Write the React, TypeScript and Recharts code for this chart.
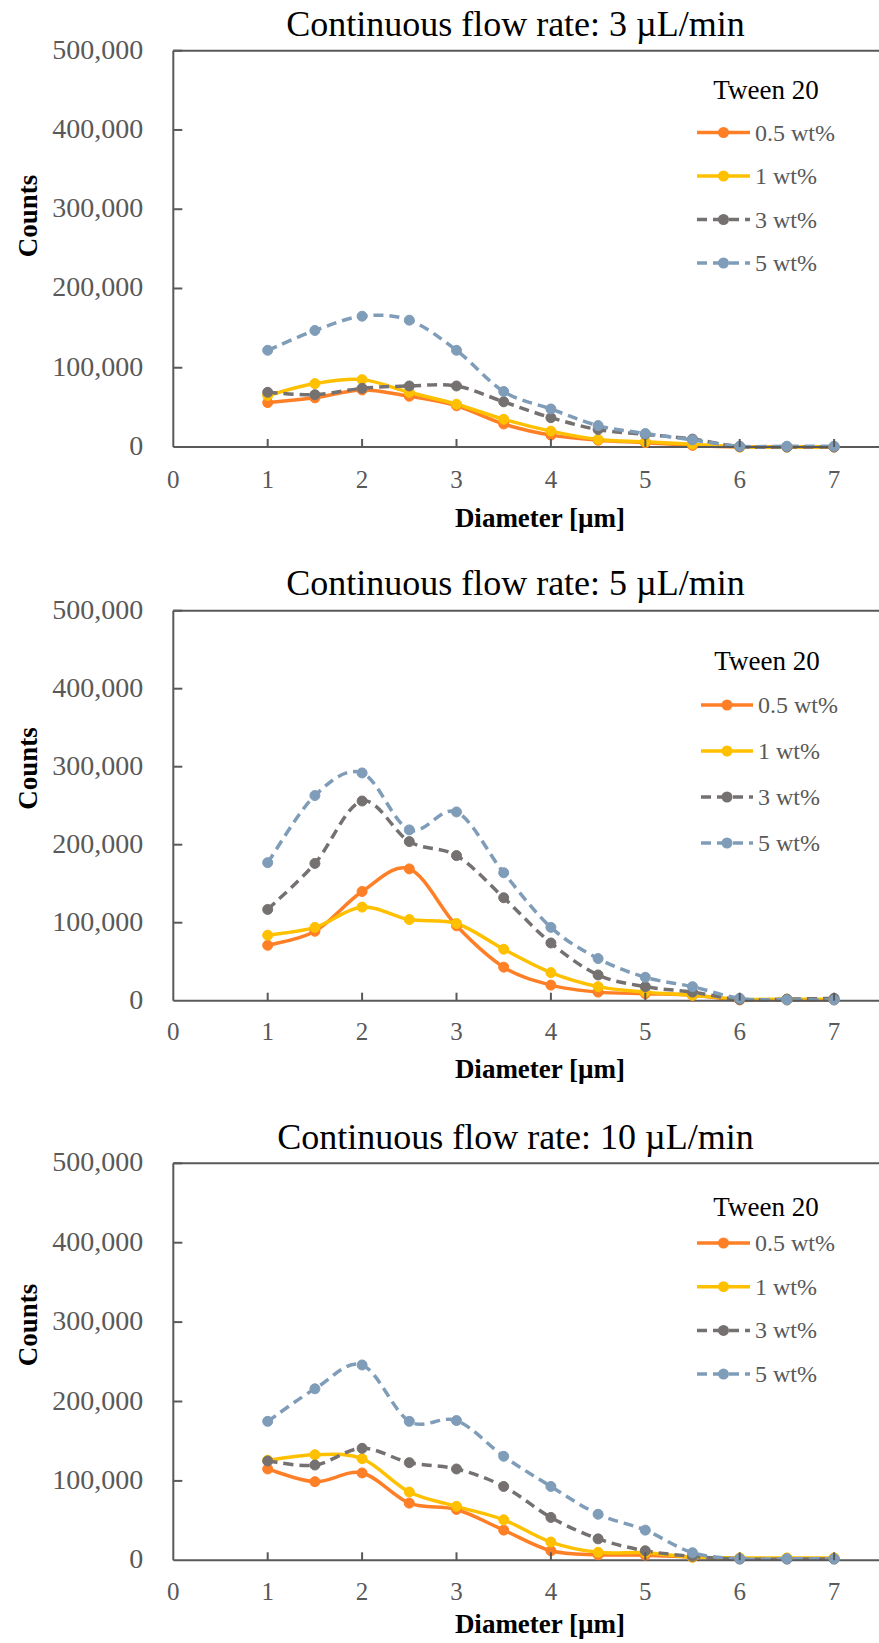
import React from 'react';
import { LineChart, Line, XAxis, YAxis, ReferenceLine, Legend } from 'recharts';

const FONT = '"Liberation Serif", "Times New Roman", serif';
const AXIS = '#595959';

const diameters = [1, 1.5, 2, 2.5, 3, 3.5, 4, 4.5, 5, 5.5, 6, 6.5, 7];
const seriesNames = ['0.5 wt%', '1 wt%', '3 wt%', '5 wt%'];
const seriesColors = ['#FF7F27', '#FFC000', '#767171', '#7F9DB9'];
const seriesDashes = [undefined, undefined, '10 6', '10 6'];
const xTicks = [0, 1, 2, 3, 4, 5, 6, 7];
const yTicks = [0, 100000, 200000, 300000, 400000, 500000];
const titles = [
  'Continuous flow rate: 3 µL/min',
  'Continuous flow rate: 5 µL/min',
  'Continuous flow rate: 10 µL/min',
];
const legendTitle = 'Tween 20';
const xLabel = 'Diameter [µm]';
const yLabel = 'Counts';

// 3 µL/min
const flow3_05 = [56000, 62000, 72000, 64000, 52000, 29000, 15000, 8500, 5500, 2000, 0, 0, 0];
const flow3_1 = [65000, 80000, 85000, 69000, 54000, 35000, 20000, 9500, 6500, 3500, 0, 0, 0];
const flow3_3 = [69000, 66000, 74000, 77000, 77000, 57000, 37000, 22000, 16000, 10000, 500, 0, 0];
const flow3_5 = [122000, 147000, 165000, 160000, 122000, 70000, 48000, 27000, 17000, 9000, 1000, 1000, 1000];

// 5 µL/min
const flow5_05 = [71000, 89000, 140000, 169000, 96000, 43000, 20000, 11000, 9000, 7000, 1000, 1000, 1000];
const flow5_1 = [84000, 94000, 120000, 104000, 99000, 66000, 36000, 18000, 11000, 7000, 2000, 2000, 2000];
const flow5_3 = [117000, 176000, 256000, 204000, 186000, 132000, 74000, 33000, 18000, 11000, 1500, 2000, 3000];
const flow5_5 = [177000, 263000, 292000, 219000, 242000, 164000, 94000, 54000, 30000, 18000, 3000, 1000, 1000];

// 10 µL/min
const flow10_05 = [115000, 99000, 110000, 72000, 64000, 38000, 12000, 7000, 6500, 4000, 2000, 2000, 2000];
const flow10_1 = [126000, 133000, 128000, 86000, 68000, 51000, 23000, 10000, 9500, 4000, 3000, 3000, 3000];
const flow10_3 = [125000, 120000, 141000, 123000, 115000, 93000, 54000, 27000, 12000, 5000, 1500, 1500, 1500];
const flow10_5 = [175000, 216000, 246000, 175000, 176000, 131000, 93000, 58000, 38000, 9500, 2000, 2000, 2000];

const panelSeries = [
  [flow3_05, flow3_1, flow3_3, flow3_5],
  [flow5_05, flow5_1, flow5_3, flow5_5],
  [flow10_05, flow10_1, flow10_3, flow10_5],
];

// layout (pixels) per panel
const panels = [
  { top: 0, height: 545, plotTop: 50.7, plotBottom: 447, xOff: 41, titleY: 35.5, countsY: 216, diamY: 527,
    lg: { titleY: 99, firstY: 132.5, step: 43.5, x1: 697, x2: 750, textX: 755, titleX: 766 } },
  { top: 550, height: 545, plotTop: 60.7, plotBottom: 450.7, xOff: 39.5, titleY: 45, countsY: 218.6, diamY: 527.5,
    lg: { titleY: 120, firstY: 155, step: 46, x1: 701, x2: 753, textX: 758, titleX: 767 } },
  { top: 1100, height: 543, plotTop: 63.3, plotBottom: 460.3, xOff: 39.5, titleY: 48.5, countsY: 225, diamY: 533,
    lg: { titleY: 115.5, firstY: 143, step: 43.7, x1: 697, x2: 750, textX: 755, titleX: 766 } },
];

const WIDTH = 879;
const PLOT_LEFT = 173.3;
const UNIT = 94.4;
const XMAX = (WIDTH - PLOT_LEFT) / UNIT;

// Excel-like smoothed line (Catmull-Rom / cardinal with tension 0)
function excelSmooth(context: any) {
  let px: number[] = [];
  let py: number[] = [];
  return {
    areaStart() {},
    areaEnd() {},
    lineStart() {
      px = [];
      py = [];
    },
    point(x: number, y: number) {
      px.push(+x);
      py.push(+y);
    },
    lineEnd() {
      const n = px.length;
      if (!n) return;
      context.moveTo(px[0], py[0]);
      if (n === 2) {
        context.lineTo(px[1], py[1]);
        return;
      }
      for (let i = 0; i < n - 1; i++) {
        const i0 = Math.max(0, i - 1);
        const i3 = Math.min(n - 1, i + 2);
        const c1x = px[i] + (px[i + 1] - px[i0]) / 6;
        const c1y = py[i] + (py[i + 1] - py[i0]) / 6;
        const c2x = px[i + 1] - (px[i3] - px[i]) / 6;
        const c2y = py[i + 1] - (py[i3] - py[i]) / 6;
        context.bezierCurveTo(c1x, c1y, c2x, c2y, px[i + 1], py[i + 1]);
      }
    },
  };
}

const XTick = (props: any) => {
  const { x, y, payload, off } = props;
  const axisY = y - off;
  return (
    <g>
      {payload.value !== 0 && (
        <line x1={x} x2={x} y1={axisY} y2={axisY - 8} stroke={AXIS} strokeWidth={2} />
      )}
      <text x={x} y={y} textAnchor="middle" fill={AXIS} fontSize={25} fontFamily={FONT}>
        {payload.value}
      </text>
    </g>
  );
};

const YTick = (props: any) => {
  const { x, y, payload } = props;
  const axisX = x + 30;
  return (
    <g>
      {payload.value !== 0 && (
        <line x1={axisX} x2={axisX + 9} y1={y} y2={y} stroke={AXIS} strokeWidth={2} />
      )}
      <text x={x} y={y + 8} textAnchor="end" fill={AXIS} fontSize={28} fontFamily={FONT}>
        {Number(payload.value).toLocaleString('en-US')}
      </text>
    </g>
  );
};

const makeLegend = (lg: any) => (props: any) => {
  const payload = props.payload || [];
  return (
    <svg width={WIDTH} height={320} style={{ overflow: 'visible', pointerEvents: 'none' }}>
      <text x={lg.titleX} y={lg.titleY} textAnchor="middle" fill="#000" fontSize={27} fontFamily={FONT}>
        {legendTitle}
      </text>
      {payload.map((entry: any, k: number) => {
        const idx = seriesNames.indexOf(entry.value);
        const i = idx >= 0 ? idx : k;
        const cy = lg.firstY + i * lg.step;
        const color = seriesColors[i];
        return (
          <g key={entry.value}>
            <line
              x1={lg.x1}
              x2={lg.x2}
              y1={cy}
              y2={cy}
              stroke={color}
              strokeWidth={3.5}
              strokeDasharray={seriesDashes[i]}
            />
            <circle cx={(lg.x1 + lg.x2) / 2} cy={cy} r={5.5} fill={color} />
            <text x={lg.textX} y={cy + 8} fill={AXIS} fontSize={24} fontFamily={FONT}>
              {entry.value}
            </text>
          </g>
        );
      })}
    </svg>
  );
};

function Panel({ p, series, title }: any) {
  const data = diameters.map((d, i) => {
    const row: any = { d };
    series.forEach((s: number[], k: number) => {
      row['s' + k] = s[i];
    });
    return row;
  });
  const xAxisHeight = 40;
  const marginBottom = p.height - p.plotBottom - xAxisHeight;
  return (
    <div style={{ position: 'absolute', left: 0, top: p.top, width: WIDTH, height: p.height }}>
      <LineChart
        width={WIDTH}
        height={p.height}
        data={data}
        margin={{ top: p.plotTop, right: 0, bottom: marginBottom, left: PLOT_LEFT - 100 }}
      >
        <XAxis
          dataKey="d"
          type="number"
          domain={[0, XMAX]}
          ticks={xTicks}
          allowDataOverflow
          height={xAxisHeight}
          tickSize={0}
          tickMargin={p.xOff}
          axisLine={{ stroke: AXIS, strokeWidth: 2 }}
          tickLine={false}
          tick={(tp: any) => <XTick {...tp} off={p.xOff} />}
          interval={0}
        />
        <YAxis
          type="number"
          domain={[0, 500000]}
          ticks={yTicks}
          width={100}
          tickSize={0}
          tickMargin={30}
          axisLine={{ stroke: AXIS, strokeWidth: 2 }}
          tickLine={false}
          tick={(tp: any) => <YTick {...tp} />}
          interval={0}
        />
        <ReferenceLine y={500000} stroke={AXIS} strokeWidth={2} />
        {seriesNames.map((name, k) => (
          <Line
            key={name}
            dataKey={'s' + k}
            name={name}
            type={excelSmooth as any}
            stroke={seriesColors[k]}
            strokeWidth={3.5}
            strokeDasharray={seriesDashes[k]}
            dot={{ r: 5, fill: seriesColors[k], stroke: seriesColors[k], strokeWidth: 1, strokeDasharray: '' }}
            activeDot={false}
            isAnimationActive={false}
          />
        ))}
        <Legend
          layout="vertical"
          align="center"
          verticalAlign="middle"
          wrapperStyle={{ position: 'absolute', left: 0, top: 0, width: WIDTH, height: 320, pointerEvents: 'none' }}
          content={makeLegend(p.lg)}
        />
      </LineChart>
      <svg
        width={WIDTH}
        height={p.height}
        style={{ position: 'absolute', left: 0, top: 0, pointerEvents: 'none' }}
      >
        <text x={515.5} y={p.titleY} textAnchor="middle" fill="#000" fontSize={36} fontFamily={FONT}>
          {title}
        </text>
        <text
          x={28}
          y={p.countsY}
          transform={`rotate(-90 28 ${p.countsY})`}
          textAnchor="middle"
          dominantBaseline="central"
          fill="#000"
          fontSize={27}
          fontWeight="bold"
          fontFamily={FONT}
        >
          {yLabel}
        </text>
        <text x={540} y={p.diamY} textAnchor="middle" fill="#000" fontSize={27} fontWeight="bold" fontFamily={FONT}>
          {xLabel}
        </text>
      </svg>
    </div>
  );
}

export default function App() {
  return (
    <div style={{ position: 'absolute', left: 0, top: 0, width: WIDTH, height: 1643, background: '#fff', fontFamily: FONT }}>
      {panels.map((p, i) => (
        <Panel key={i} p={p} series={panelSeries[i]} title={titles[i]} />
      ))}
    </div>
  );
}
